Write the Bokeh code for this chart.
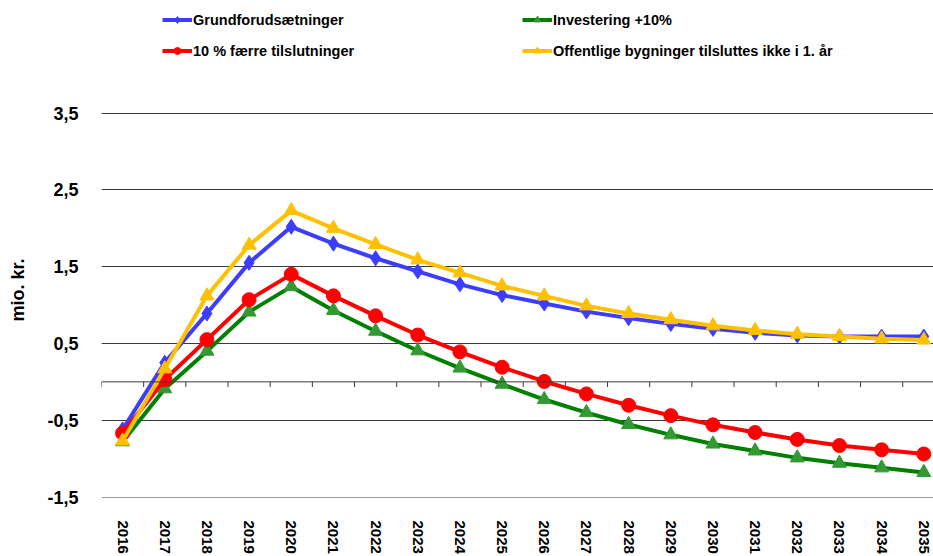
from bokeh.plotting import figure
from bokeh.models import (Range1d, FixedTicker, CustomJSTickFormatter, Span, Legend,
                          LegendItem, ColumnDataSource, Title)
from bokeh.embed import file_html
from bokeh.resources import INLINE

# ---- data ----
years = list(range(2016, 2036))
grund = [-0.62, 0.25, 0.89, 1.55, 2.02, 1.80, 1.61, 1.44, 1.27, 1.13,
         1.02, 0.915, 0.83, 0.755, 0.69, 0.64, 0.605, 0.59, 0.59, 0.59]
investering = [-0.78, -0.09, 0.40, 0.91, 1.24, 0.93, 0.66, 0.405, 0.18, -0.03,
               -0.23, -0.40, -0.555, -0.69, -0.81, -0.90, -0.99, -1.06, -1.12, -1.18]
faerre = [-0.67, 0.03, 0.55, 1.07, 1.40, 1.12, 0.86, 0.61, 0.39, 0.19,
          0.005, -0.157, -0.305, -0.44, -0.56, -0.66, -0.75, -0.83, -0.885, -0.94]
offentlige = [-0.77, 0.17, 1.12, 1.78, 2.23, 2.00, 1.79, 1.59, 1.42, 1.25,
              1.12, 0.99, 0.89, 0.81, 0.73, 0.67, 0.62, 0.59, 0.56, 0.545]
y_ticks = [-1.5, -0.5, 0.5, 1.5, 2.5, 3.5]
series_names = ["Grundforudsætninger", "Investering +10%",
                "10 % færre tilslutninger", "Offentlige bygninger tilsluttes ikke i 1. år"]
y_title = "mio. kr."

FONT = "Liberation Sans"

W, H = 933, 556
p = figure(width=W, height=H, output_backend="svg", toolbar_location=None,
           x_range=Range1d(2015.5, 2035.23), y_range=Range1d(-1.5065, 4.9675),
           min_border_left=101, min_border_right=0, min_border_top=0, min_border_bottom=58)
p.outline_line_color = None
p.background_fill_color = "white"

# y axis title, drawn as a title on the left side
p.add_layout(Title(text=y_title, align="left", offset=176, standoff=2,
                   text_font=FONT, text_font_style="bold",
                   text_font_size="18px", text_color="black"), "left")

# grid
p.xgrid.visible = False
p.ygrid.ticker = FixedTicker(ticks=y_ticks)
p.ygrid.grid_line_color = "#3a3a3a"
p.ygrid.grid_line_width = 1

# y axis
ya = p.yaxis[0]
ya.ticker = FixedTicker(ticks=y_ticks)
ya.formatter = CustomJSTickFormatter(code="return tick.toFixed(1).replace('.', ',');")
ya.axis_line_color = None
ya.major_tick_line_color = None
ya.minor_tick_line_color = None
ya.major_label_standoff = 17
ya.major_label_text_font = FONT
ya.major_label_text_font_style = "bold"
ya.major_label_text_font_size = "18px"
ya.major_label_text_color = "black"
# blank spacer label: pushes the side title a little further left
ya.axis_label = " "
ya.axis_label_text_font_size = "10px"
ya.axis_label_standoff = 2

# x axis
xa = p.xaxis[0]
xa.ticker = FixedTicker(ticks=years)
xa.axis_line_color = None
xa.major_tick_line_color = None
xa.minor_tick_line_color = None
xa.major_label_orientation = "vertical"
xa.major_label_standoff = 17
xa.major_label_text_font = FONT
xa.major_label_text_font_style = "bold"
xa.major_label_text_font_size = "15px"
xa.major_label_text_color = "black"

# zero axis line with category boundary ticks
p.add_layout(Span(location=0, dimension="width", line_color="#3a3a3a", line_width=1))
bounds = [y - 0.5 for y in years]
p.segment(x0=bounds, y0=[0] * len(bounds), x1=bounds, y1=[-0.068] * len(bounds),
          line_color="#3a3a3a", line_width=1)

# series
src = ColumnDataSource(dict(x=years, g=grund, i=investering, f=faerre, o=offentlige))
specs = [
    ("g", "#3d3dff", "#3d3dff", "diamond", 15),
    ("i", "#008000", "#339933", "triangle", 14),
    ("f", "#ff0000", "#ff0000", "circle", 14),
    ("o", "#ffc000", "#ffc000", "triangle", 14),
]
items = []
for (col, lc, mc, mk, sz), name in zip(specs, series_names):
    lr = p.line("x", col, source=src, line_color=lc, line_width=4)
    sr = p.scatter("x", col, source=src, marker=mk, size=sz,
                   fill_color=mc, line_color=mc)
    items.append(LegendItem(label=name, renderers=[lr, sr]))


def make_legend(its, loc):
    lg = Legend(items=its, location=loc, orientation="vertical",
                padding=0, margin=0, spacing=14,
                glyph_width=30, glyph_height=17, label_height=17, label_standoff=1,
                background_fill_alpha=0, border_line_alpha=0,
                label_text_font=FONT, label_text_font_style="bold",
                label_text_font_size="14.5px", label_text_color="black")
    return lg


p.add_layout(make_legend([items[0], items[2]], (61, 438)), "center")
p.add_layout(make_legend([items[1], items[3]], (421, 438)), "center")

open("out.html", "w").write(file_html(p, INLINE))
